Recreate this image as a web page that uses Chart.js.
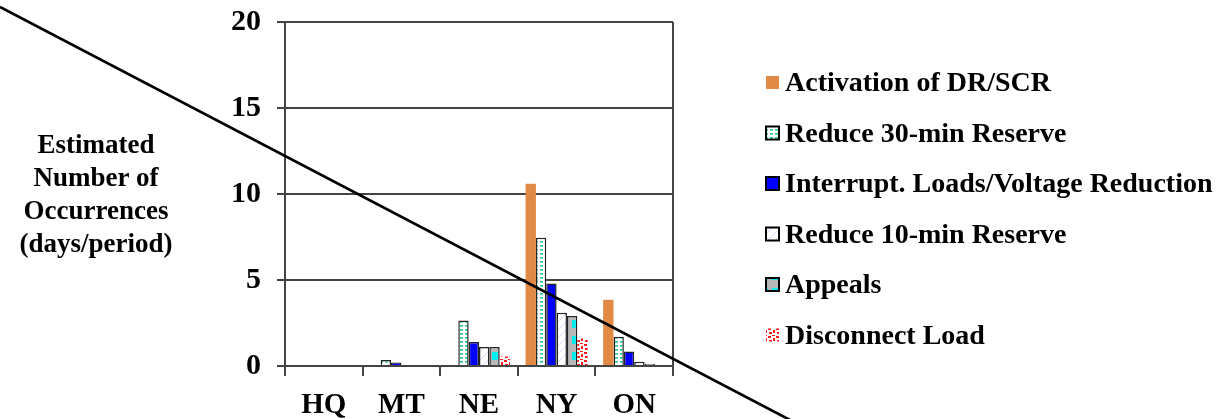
<!DOCTYPE html>
<html>
<head>
<meta charset="utf-8">
<script src="https://cdn.jsdelivr.net/npm/chart.js@4.4.1/dist/chart.umd.min.js"></script>
<style>
html,body{margin:0;padding:0;background:#fff;overflow:hidden;}
#wrap{position:relative;width:1231px;height:419px;}
canvas{display:block;}
</style>
</head>
<body>
<div id="wrap"><canvas id="c" width="1231" height="419"></canvas></div>
<script>
// ---- data ----
const categories = ['HQ', 'MT', 'NE', 'NY', 'ON'];
const activationDR = [0, 0, 0, 10.6, 3.85];
const reduce30 = [0, 0.35, 2.65, 7.45, 1.7];
const interruptLoads = [0, 0.2, 1.4, 4.8, 0.85];
const reduce10 = [0, 0, 1.1, 3.1, 0.25];
const appeals = [0, 0, 1.1, 2.9, 0.12];
const disconnectLoad = [0, 0, 0.55, 1.6, 0];
const seriesLabels = ['Activation of DR/SCR', 'Reduce 30-min Reserve', 'Interrupt. Loads/Voltage Reduction', 'Reduce 10-min Reserve', 'Appeals', 'Disconnect Load'];
const yTicks = [0, 5, 10, 15, 20];
const yTitleLines = ['Estimated', 'Number of', 'Occurrences', '(days/period)'];

// ---- patterns ----
function makePattern(w, h, draw) {
  const c = document.createElement('canvas');
  c.width = w; c.height = h;
  const x = c.getContext('2d');
  draw(x, w, h);
  return document.getElementById('c').getContext('2d').createPattern(c, 'repeat');
}
const pat30 = makePattern(5, 4, (x, w, h) => {
  x.fillStyle = '#fff'; x.fillRect(0, 0, w, h);
  x.fillStyle = '#1fc98f';
  x.fillRect(0, 1, 3, 1.6);
});
const pat10 = makePattern(8, 8, (x, w, h) => {
  x.fillStyle = '#fff'; x.fillRect(0, 0, w, h);
  x.strokeStyle = '#d4d4ff'; x.lineWidth = 1;
  x.beginPath(); x.moveTo(0, 8); x.lineTo(8, 0); x.stroke();
});
const patAppeals = makePattern(10, 16, (x, w, h) => {
  x.fillStyle = '#00f0f0'; x.fillRect(0, 0, w, 8);
  x.fillStyle = '#b8b8b8'; x.fillRect(0, 8, w, 8);
  x.fillRect(0, 0, 2, 8); x.fillRect(8, 0, 2, 8);
});
const patDisconnect = makePattern(8, 8, (x, w, h) => {
  x.fillStyle = '#fff'; x.fillRect(0, 0, w, h);
  x.fillStyle = '#ff1a1a';
  x.fillRect(0, 0, 3, 2); x.fillRect(5, 2, 2, 3); x.fillRect(1, 4, 3, 2); x.fillRect(4, 7, 3, 1);
});

// ---- plugins ----
const frame = {
  id: 'frame',
  afterDraw(chart) {
    const {ctx, chartArea: a} = chart;
    ctx.save();
    ctx.strokeStyle = '#444'; ctx.lineWidth = 2;
    ctx.beginPath(); ctx.moveTo(a.right, a.top); ctx.lineTo(a.right, a.bottom); ctx.stroke();
    ctx.restore();
  }
};
const sideTexts = {
  id: 'sideTexts',
  afterDraw(chart) {
    const {ctx} = chart;
    ctx.save();
    ctx.fillStyle = '#000';
    // y title
    ctx.font = 'bold 27px "Liberation Serif", "Times New Roman", serif';
    ctx.textAlign = 'center'; ctx.textBaseline = 'middle';
    yTitleLines.forEach((t, i) => ctx.fillText(t, 96, 146 + i * 33));
    // legend
    ctx.font = 'bold 28px "Liberation Serif", "Times New Roman", serif';
    ctx.textAlign = 'left';
    chart.data.datasets.forEach((ds, i) => {
      const y = 83 + i * 50.5;
      ctx.fillStyle = ds.backgroundColor;
      ctx.fillRect(766, y - 7, 13, 13);
      if (ds.borderWidth) {
        ctx.strokeStyle = '#000'; ctx.lineWidth = 2;
        ctx.strokeRect(766, y - 7, 13, 13);
      }
      ctx.fillStyle = '#000';
      ctx.fillText(ds.label, 785, y + 1);
    });
    // diagonal strike line
    ctx.strokeStyle = '#000'; ctx.lineWidth = 2.6;
    ctx.beginPath(); ctx.moveTo(0, 7); ctx.lineTo(790, 420); ctx.stroke();
    ctx.restore();
  }
};

const colors = ['#e08a45', pat30, '#0000ff', pat10, patAppeals, patDisconnect];
const borders = [0, 1.5, 1.5, 1.5, 1.5, 0];
const seriesData = [activationDR, reduce30, interruptLoads, reduce10, appeals, disconnectLoad];

new Chart(document.getElementById('c'), {
  type: 'bar',
  data: {
    labels: categories,
    datasets: seriesData.map((d, i) => ({
      label: seriesLabels[i],
      data: d,
      backgroundColor: colors[i],
      borderColor: '#222',
      borderWidth: borders[i],
      borderSkipped: 'bottom',
      categoryPercentage: 0.8,
      barPercentage: 1.0
    }))
  },
  options: {
    responsive: false,
    animation: false,
    devicePixelRatio: 1,
    layout: { padding: { left: 0, top: 22, right: 558, bottom: 0 } },
    plugins: { legend: { display: false }, tooltip: { enabled: false } },
    scales: {
      x: {
        afterFit(s) { s.height = 53; s.paddingLeft = 0; s.paddingRight = 0; },
        grid: { display: true, drawOnChartArea: false, drawTicks: true, tickLength: 10, color: '#444', lineWidth: 2, offset: true },
        border: { display: true, color: '#444', width: 2 },
        ticks: { color: '#000', padding: 12, font: { family: '"Liberation Serif", "Times New Roman", serif', size: 29, weight: 'bold' } }
      },
      y: {
        min: 0, max: 20,
        afterFit(s) { s.width = 285; s.paddingTop = 0; s.paddingBottom = 0; },
        afterBuildTicks(s) { s.ticks = yTicks.map(v => ({ value: v })); },
        grid: { color: '#444', lineWidth: 2, drawTicks: true, tickLength: 8 },
        border: { display: true, color: '#444', width: 2 },
        ticks: { color: '#000', padding: 16, font: { family: '"Liberation Serif", "Times New Roman", serif', size: 30, weight: 'bold' } }
      }
    }
  },
  plugins: [frame, sideTexts]
});
</script>
</body>
</html>
